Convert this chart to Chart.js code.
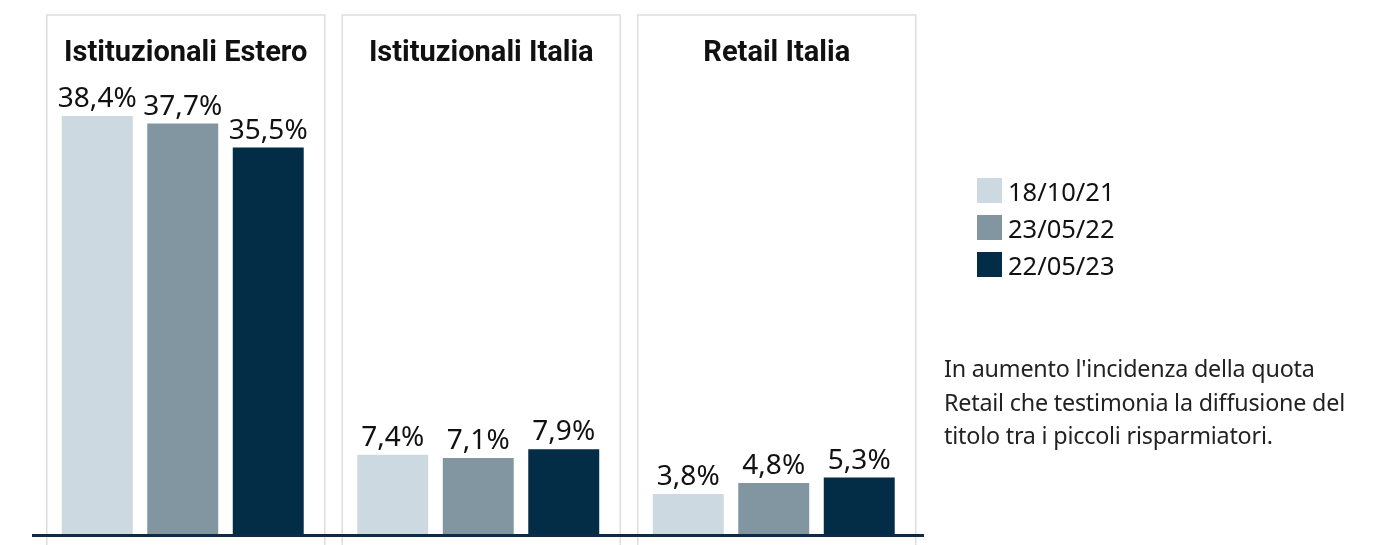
<!DOCTYPE html>
<html>
<head>
<meta charset="utf-8">
<script src="https://cdn.jsdelivr.net/npm/chart.js@4.4.0/dist/chart.umd.min.js"></script>
<style>
    html, body { margin: 0; padding: 0; background: #fff; }
    #wrap { position: relative; width: 1392px; height: 545px; overflow: hidden; }
    #legend { position: absolute; left: 977px; top: 172px; font-family: 'Noto Sans', sans-serif; font-size: 25.5px; color: #111; }
    .lg-row { display: flex; align-items: center; height: 37px; }
    .lg-box { width: 25px; height: 25px; margin-right: 6px; }
    #note { position: absolute; left: 944px; top: 352px; width: 446px; font-family: 'Noto Sans', sans-serif; font-size: 23.3px; line-height: 33.5px; color: #222; letter-spacing: -0.2px; }
</style>
</head>
<body>
<div id="wrap">
    <canvas id="chart"></canvas>
    <div id="legend"></div>
    <div id="note">In aumento l'incidenza della quota<br>Retail che testimonia la diffusione del<br>titolo tra i piccoli risparmiatori.</div>
</div>
<script>
const categories = ['Istituzionali Estero', 'Istituzionali Italia', 'Retail Italia'];
const seriesNames = ['18/10/21', '23/05/22', '22/05/23'];
const seriesColors = ['#cdd9e0', '#8296a2', '#032d47'];
const values2021 = [38.4, 7.4, 3.8];
const values2022 = [37.7, 7.1, 4.8];
const values2023 = [35.5, 7.9, 5.3];

const allValues = [values2021, values2022, values2023];

// panel frames, titles, value labels and baseline
const decorPlugin = {
    id: 'decor',
    beforeDatasetsDraw(chart) {
        const ctx = chart.ctx;
        const x = chart.scales.x;
        ctx.save();
        ctx.strokeStyle = '#dedede';
        ctx.lineWidth = 1.5;
        categories.forEach((cat, i) => {
            const cx = x.getPixelForValue(i) + 3;
            const left = cx - 139;
            const right = cx + 139;
            ctx.beginPath();
            ctx.moveTo(left, chart.height);
            ctx.lineTo(left, 15);
            ctx.lineTo(right, 15);
            ctx.lineTo(right, chart.height);
            ctx.stroke();

            ctx.fillStyle = '#111';
            ctx.font = 'bold 29px Roboto, sans-serif';
            ctx.textAlign = 'center';
            ctx.textBaseline = 'alphabetic';
            ctx.fillText(cat, cx, 61);
        });
        ctx.restore();
    },
    afterDatasetsDraw(chart) {
        const ctx = chart.ctx;
        const area = chart.chartArea;
        ctx.save();
        ctx.fillStyle = '#111';
        ctx.font = '28px "Noto Sans", sans-serif';
        ctx.textAlign = 'center';
        ctx.textBaseline = 'alphabetic';
        chart.data.datasets.forEach((ds, di) => {
            chart.getDatasetMeta(di).data.forEach((bar, i) => {
                const txt = ds.data[i].toFixed(1).replace('.', ',') + '%';
                ctx.fillText(txt, bar.x, bar.y - 9);
            });
        });
        ctx.strokeStyle = '#0d2b45';
        ctx.lineWidth = 3;
        ctx.beginPath();
        ctx.moveTo(area.left - 3, area.bottom);
        ctx.lineTo(area.right + 2.5, area.bottom);
        ctx.stroke();
        ctx.restore();
    }
};

new Chart(document.getElementById('chart'), {
    type: 'bar',
    data: {
        labels: categories,
        datasets: seriesNames.map((name, i) => ({
            label: name,
            data: allValues[i],
            backgroundColor: seriesColors[i],
            borderWidth: 0,
            categoryPercentage: 0.868,
            barPercentage: 0.83
        }))
    },
    options: {
        responsive: true,
        maintainAspectRatio: false,
        animation: false,
        layout: { padding: { left: 35, right: 470.5, top: 11, bottom: 9.5 } },
        scales: {
            x: { display: false, grid: { display: false } },
            y: { display: false, min: 0, max: 48 }
        },
        plugins: { legend: { display: false }, tooltip: { enabled: false } }
    },
    plugins: [decorPlugin]
});

// legend
const legendEl = document.getElementById('legend');
seriesNames.forEach((name, i) => {
    const row = document.createElement('div');
    row.className = 'lg-row';
    row.innerHTML = `<span class="lg-box" style="background:${seriesColors[i]}"></span><span>${name}</span>`;
    legendEl.appendChild(row);
});
</script>
</body>
</html>
